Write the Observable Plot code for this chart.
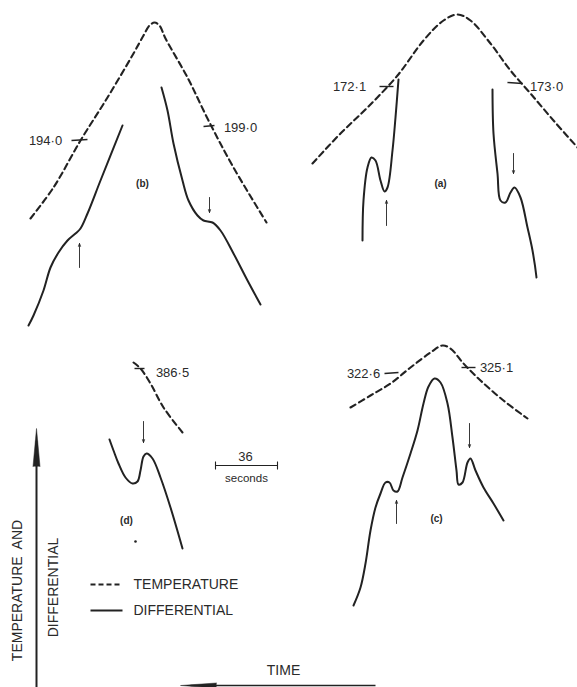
<!DOCTYPE html>
<html>
<head>
<meta charset="utf-8">
<script src="https://cdn.jsdelivr.net/npm/d3@7"></script>
<script src="https://cdn.jsdelivr.net/npm/@observablehq/plot@0.6"></script>
<style>
  html, body { margin: 0; padding: 0; background: #fff; }
  #chart svg { display: block; }
</style>
</head>
<body>
<div id="chart"></div>
<script>
// Traces are given in the figure's own (time, level) coordinate frame.
// Panel (b)
const bTemp = [[30,218],[53,187],[80,140],[107,97],[133,53],[143,35],[149,25],[154,22],[159,25],[165,38],[187,77],[208,120],[233,167],[266,222]];
const bDiffLeft = [[28,325],[33,315],[43,290],[50,267],[58,252],[67,240],[75,233],[80,228],[87,213],[100,180],[122,125]];
const bDiffRight = [[161,87],[167,110],[173,143],[182,180],[188,200],[197,215],[203,220],[212,222],[220,230],[233,253],[247,280],[260,304]];
// Panel (a)
const aTemp = [[312,163],[340,133],[367,107],[397,75],[423,40],[443,20],[457,14],[470,20],[490,43],[510,70],[530,93],[553,120],[577,147]];
const aDiffLeft = [[362,240],[363,200],[367,167],[371,157],[375,160],[380,180],[384,191],[387,187],[392,150],[395,117],[398,79]];
const aDiffRight = [[492,89],[493,133],[497,173],[500,200],[505,202],[510,192],[514,187],[520,197],[527,227],[532,250],[536,277]];
// Panel (d)
const dTemp = [[133,362],[140,368],[150,383],[163,407],[182,432]];
const dDiff = [[109,439],[113,450],[118,463],[125,477],[132,483],[137,481],[140,470],[143,456],[146,453],[152,458],[160,477],[170,507],[182,548]];
// Panel (c)
const cTemp = [[350,407],[370,395],[390,383],[410,367],[430,352],[442,345],[450,348],[463,363],[480,380],[503,400],[527,418]];
const cDiff = [[353,605],[360,587],[365,563],[370,530],[375,507],[380,493],[385,482],[389,482],[393,490],[397,491],[402,477],[410,453],[417,430],[423,403],[428,386],[434,378],[440,382],[447,403],[452,437],[456,470],[458,484],[462,482],[467,462],[470,458],[475,470],[483,487],[493,503],[503,520]];

// Temperature readings marked on the traces
const tempLabels = ["194·0","199·0","172·1","173·0","386·5","322·6","325·1"];
const tempLabelPos = [[45,140],[240,127],[349,86],[546,86],[172,372],[363,373],[496,367]];
const tempTicks = [[[71,140],[87,139]],[[203,126],[214,125]],[[379,86],[393,86]],[[507,82],[522,83]],[[134,368],[144,368]],[[384,373],[398,372]],[[461,367],[475,367]]];

const panelNames = ["(b)","(a)","(d)","(c)"];
const panelPos = [[142,183],[440,183],[126,520],[436,518]];

// Event arrows [x, yFrom, yTo]
const eventArrows = [[79,267,243],[209,197,212],[386,225,200],[513,153,173],[143,421,442],[396,523,500],[469,423,447]];

const tempSeries = [bTemp, aTemp, dTemp, cTemp];
const diffSeries = [bDiffLeft, bDiffRight, aDiffLeft, aDiffRight, dDiff, cDiff];

const toRows = (arrs) => arrs.flatMap((a, i) => a.map(([x, y]) => ({x, y, id: i})));

const ink = "#222";
const textInk = "#2a2a2a";
const font = "Liberation Sans, Arial, sans-serif";

const plot = Plot.plot({
  width: 577,
  height: 687,
  margin: 0,
  style: {background: "#fff", fontFamily: font},
  x: {domain: [0, 577], range: [0, 577], axis: null},
  y: {domain: [0, 687], range: [0, 687], axis: null},
  marks: [
    // temperature traces
    Plot.line(toRows(tempSeries), {x: "x", y: "y", z: "id", curve: "catmull-rom", stroke: ink, strokeWidth: 2.1, strokeDasharray: "6,4"}),
    // differential traces
    Plot.line(toRows(diffSeries), {x: "x", y: "y", z: "id", curve: "catmull-rom", stroke: ink, strokeWidth: 2}),
    // temperature ticks
    Plot.link(tempTicks, {x1: d => d[0][0], y1: d => d[0][1], x2: d => d[1][0], y2: d => d[1][1], stroke: ink, strokeWidth: 1.4}),
    Plot.text(tempLabels, {x: (d, i) => tempLabelPos[i][0], y: (d, i) => tempLabelPos[i][1], text: d => d, fontSize: 13, fill: textInk}),
    Plot.text(panelNames, {x: (d, i) => panelPos[i][0], y: (d, i) => panelPos[i][1], text: d => d, fontSize: 10, fontWeight: "bold", fill: textInk}),
    // small event arrows
    Plot.arrow(eventArrows, {x1: d => d[0], y1: d => d[1], x2: d => d[0], y2: d => d[2], stroke: ink, strokeWidth: 0.9, headLength: 5, headAngle: 40}),
    // stray dot in (d)
    Plot.dot([[135,541]], {x: d => d[0], y: d => d[1], r: 1.3, fill: ink}),
    // 36 seconds scale bar
    Plot.link([[215,277]], {x1: d => d[0], x2: d => d[1], y1: 465, y2: 465, stroke: ink, strokeWidth: 1.1}),
    Plot.link([215, 277], {x1: d => d, x2: d => d, y1: 461, y2: 469, stroke: ink, strokeWidth: 1.1}),
    Plot.text(["36"], {x: 245, y: 456, text: d => d, fontSize: 13, fill: textInk}),
    Plot.text(["seconds"], {x: 246, y: 478, text: d => d, fontSize: 11.5, fill: textInk}),
    // legend
    Plot.link([0], {x1: 90, x2: 122, y1: 584, y2: 584, stroke: ink, strokeWidth: 1.8, strokeDasharray: "5,3"}),
    Plot.link([0], {x1: 90, x2: 122, y1: 610, y2: 610, stroke: ink, strokeWidth: 1.9}),
    Plot.text(["TEMPERATURE"], {x: 133, y: 584, text: d => d, textAnchor: "start", fontSize: 14, fill: textInk}),
    Plot.text(["DIFFERENTIAL"], {x: 133, y: 610, text: d => d, textAnchor: "start", fontSize: 14, fill: textInk}),
    // axes arrows
    Plot.link([0], {x1: 36, x2: 36, y1: 687, y2: 440, stroke: ink, strokeWidth: 2}),
    Plot.vector([0], {x: 36, y: 466, length: 38, rotate: 0, r: 3.5, shape: "spike", anchor: "start", fill: ink, stroke: ink, strokeWidth: 0.5}),
    Plot.text(["TEMPERATURE  AND"], {x: 17, y: 590, text: d => d, rotate: -90, fontSize: 14, fill: textInk}),
    Plot.text(["DIFFERENTIAL"], {x: 53, y: 587, text: d => d, rotate: -90, fontSize: 14, fill: textInk}),
    Plot.link([0], {x1: 375, x2: 190, y1: 685, y2: 685, stroke: ink, strokeWidth: 1.6}),
    Plot.vector([0], {x: 216, y: 685, length: 36, rotate: -90, r: 2.5, shape: "spike", anchor: "start", fill: ink, stroke: ink, strokeWidth: 0.5}),
    Plot.text(["TIME"], {x: 283, y: 670, text: d => d, fontSize: 14, fill: textInk})
  ]
});
document.getElementById("chart").append(plot);
</script>
</body>
</html>
